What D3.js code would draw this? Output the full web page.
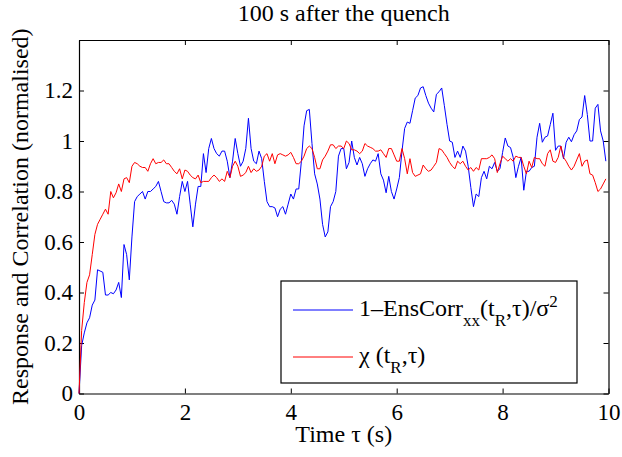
<!DOCTYPE html>
<html>
<head>
<meta charset="utf-8">
<script src="https://cdn.jsdelivr.net/npm/d3@7"></script>
<style>
  body { margin: 0; background: #fff; }
  svg text { font-family: "Liberation Serif", "Times New Roman", serif; fill: #000; }
</style>
</head>
<body>
<div id="chart"></div>
<script>
// sampling step of both curves (s)
const dt = 0.05;

// 1 - EnsCorr_xx(t_R, tau) / sigma^2  (blue)
const corrValues = [
  0, 0.19, 0.24, 0.28, 0.30, 0.35, 0.37, 0.49, 0.485, 0.48,
  0.39, 0.39, 0.40, 0.395, 0.41, 0.44, 0.38, 0.59, 0.55, 0.45,
  0.62, 0.76, 0.78, 0.79, 0.80, 0.77, 0.80, 0.80, 0.81, 0.82,
  0.84, 0.80, 0.76, 0.755, 0.755, 0.765, 0.75, 0.71, 0.78, 0.84,
  0.80, 0.84, 0.75, 0.66, 0.75, 0.82, 0.82, 0.95, 0.875, 0.97,
  1.01, 0.97, 0.95, 0.94, 0.96, 0.96, 0.92, 0.855, 0.92, 1.01,
  0.95, 0.90, 0.92, 0.97, 1.09, 0.97, 0.92, 0.91, 0.96, 0.93,
  0.84, 0.76, 0.74, 0.74, 0.735, 0.70, 0.73, 0.74, 0.71, 0.75,
  0.79, 0.77, 0.81, 0.81, 0.92, 1.06, 1.12, 1.125, 0.99, 0.87,
  0.83, 0.77, 0.67, 0.62, 0.64, 0.74, 0.76, 0.80, 0.94, 0.97,
  0.97, 0.89, 0.915, 1.0, 0.935, 0.905, 0.935, 0.91, 0.86, 0.89,
  0.91, 0.925, 0.92, 0.95, 0.87, 0.845, 0.795, 0.86, 0.80, 0.77,
  0.81, 0.855, 0.96, 1.05, 1.075, 1.07, 1.12, 1.17, 1.18, 1.21,
  1.215, 1.18, 1.15, 1.13, 1.115, 1.185, 1.195, 1.21, 1.14, 1.066,
  1.0, 0.995, 0.935, 0.96, 0.935, 0.98, 0.96, 0.90, 0.816, 0.74,
  0.79, 0.78, 0.855, 0.88, 0.85, 0.90, 0.89, 0.915, 0.88, 0.89,
  0.955, 1.012, 0.98, 0.974, 0.935, 0.855, 0.90, 0.935, 0.805, 0.88,
  0.88, 0.895, 0.90, 1.015, 1.07, 0.995, 1.015, 1.02, 1.065, 1.11,
  0.963, 0.98, 0.98, 0.93, 0.995, 1.015, 0.997, 1.025, 1.04, 1.085,
  1.095, 1.18, 1.105, 1.0, 1.0, 1.13, 1.145, 1.04, 1.0, 0.92
];

// chi(t_R, tau)  (red)
const chiValues = [
  0, 0.25, 0.36, 0.44, 0.47, 0.55, 0.63, 0.67, 0.69, 0.71,
  0.73, 0.71, 0.80, 0.775, 0.795, 0.83, 0.80, 0.85, 0.855, 0.835,
  0.90, 0.915, 0.91, 0.90, 0.895, 0.895, 0.88, 0.91, 0.93, 0.91,
  0.915, 0.915, 0.925, 0.91, 0.91, 0.895, 0.88, 0.87, 0.89, 0.85,
  0.885, 0.88, 0.865, 0.855, 0.85, 0.865, 0.835, 0.84, 0.84, 0.84,
  0.855, 0.865, 0.855, 0.84, 0.85, 0.84, 0.88, 0.855, 0.90, 0.92,
  0.90, 0.86, 0.865, 0.875, 0.90, 0.875, 0.89, 0.88, 0.885, 0.90,
  0.94, 0.95, 0.92, 0.95, 0.91, 0.945, 0.95, 0.945, 0.94, 0.945,
  0.955, 0.935, 0.91, 0.91, 0.92, 0.94, 0.97, 0.98, 0.97, 0.935,
  0.89, 0.89, 0.925, 0.94, 0.96, 0.985, 0.985, 0.97, 0.98, 0.98,
  0.97, 1.0, 0.99, 0.965, 0.965, 0.96, 0.95, 0.96, 0.99, 0.98,
  0.975, 0.97, 0.96, 0.96, 0.965, 0.95, 0.935, 0.97, 0.97, 0.945,
  0.92, 0.92, 0.97, 0.93, 0.87, 0.93, 0.875, 0.86, 0.865, 0.87,
  0.905, 0.89, 0.88, 0.885, 0.90, 0.915, 0.97, 0.965, 0.95, 0.935,
  0.915, 0.90, 0.89, 0.92, 0.91, 0.92, 0.90, 0.885, 0.895, 0.88,
  0.895, 0.885, 0.93, 0.93, 0.93, 0.935, 0.945, 0.93, 0.875, 0.91,
  0.94, 0.93, 0.92, 0.93, 0.92, 0.94, 0.935, 0.935, 0.90, 0.87,
  0.92, 0.895, 0.935, 0.93, 0.93, 0.91, 0.90, 0.95, 0.965, 0.92,
  0.915, 0.935, 0.98, 0.935, 0.92, 0.90, 0.885, 0.90, 0.925, 0.95,
  0.90, 0.92, 0.925, 0.87, 0.865, 0.835, 0.80, 0.81, 0.83, 0.85
];

const xTicks = [0, 2, 4, 6, 8, 10];
const yTicks = [0, 0.2, 0.4, 0.6, 0.8, 1, 1.2];

const serif = '"Liberation Serif", "Times New Roman", serif';
const width = 622;
const height = 457;
const margin = { top: 40, right: 13.5, bottom: 63.5, left: 79 };

const svg = d3
  .select("#chart")
  .append("svg")
  .attr("width", width)
  .attr("height", height);

const x = d3.scaleLinear().domain([0, 10]).range([margin.left, width - margin.right]);
const y = d3.scaleLinear().domain([0, 1.4]).range([height - margin.bottom, margin.top]);

// axes: ticks pointing inward, mirrored on top / right
const fmt = (d) => String(d);
svg.append("g")
  .attr("transform", `translate(0,${y(0)})`)
  .call(d3.axisBottom(x).tickValues(xTicks).tickFormat(fmt).tickSizeInner(-5).tickSizeOuter(0).tickPadding(10));
svg.append("g")
  .attr("transform", `translate(0,${y(1.4)})`)
  .call(d3.axisTop(x).tickValues(xTicks).tickFormat("").tickSizeInner(-5).tickSizeOuter(0));
svg.append("g")
  .attr("transform", `translate(${x(0)},0)`)
  .call(d3.axisLeft(y).tickValues(yTicks).tickFormat(fmt).tickSizeInner(-5).tickSizeOuter(0).tickPadding(6));
svg.append("g")
  .attr("transform", `translate(${x(10)},0)`)
  .call(d3.axisRight(y).tickValues(yTicks).tickFormat("").tickSizeInner(-5).tickSizeOuter(0));

svg.selectAll(".tick text").style("font-size", "23px").style("font-family", serif);
svg.selectAll(".domain").attr("stroke", "#000").attr("stroke-width", 1.2);
svg.selectAll(".tick line").attr("stroke", "#000");

// series
const line = d3.line()
  .x((d, i) => x(i * dt))
  .y((d) => y(d));

svg.append("path")
  .datum(corrValues)
  .attr("fill", "none")
  .attr("stroke", "#0000ff")
  .attr("stroke-width", 1)
  .attr("d", line);

svg.append("path")
  .datum(chiValues)
  .attr("fill", "none")
  .attr("stroke", "#ff0000")
  .attr("stroke-width", 1)
  .attr("d", line);

// title and labels
svg.append("text")
  .attr("x", (x(0) + x(10)) / 2)
  .attr("y", 21)
  .attr("text-anchor", "middle")
  .style("font-family", serif)
  .style("font-size", "24px")
  .text("100 s after the quench");

svg.append("text")
  .attr("x", (x(0) + x(10)) / 2)
  .attr("y", 442)
  .attr("text-anchor", "middle")
  .style("font-family", serif)
  .style("font-size", "24px")
  .text("Time τ (s)");

svg.append("text")
  .attr("transform", `translate(28,${(y(0) + y(1.4)) / 2}) rotate(-90)`)
  .attr("text-anchor", "middle")
  .style("font-family", serif)
  .style("font-size", "24px")
  .text("Response and Correlation (normalised)");

// legend
const legend = svg.append("g");
legend.append("rect")
  .attr("x", 281).attr("y", 281)
  .attr("width", 296).attr("height", 102)
  .attr("fill", "#fff")
  .attr("stroke", "#000")
  .attr("stroke-width", 1.2);

legend.append("line")
  .attr("x1", 293).attr("x2", 353).attr("y1", 310).attr("y2", 310)
  .attr("stroke", "#0000ff");
legend.append("line")
  .attr("x1", 293).attr("x2", 353).attr("y1", 357).attr("y2", 357)
  .attr("stroke", "#ff0000");

const t1 = legend.append("text").attr("x", 359).attr("y", 316)
  .style("font-family", serif).style("font-size", "24px");
t1.append("tspan").text("1\u2013EnsCorr");
t1.append("tspan").attr("dy", 10).style("font-size", "17px").text("xx");
t1.append("tspan").attr("dy", -10).text("(t");
t1.append("tspan").attr("dy", 10).style("font-size", "17px").text("R");
t1.append("tspan").attr("dy", -10).text(",τ)/σ");
t1.append("tspan").attr("dy", -9).style("font-size", "17px").text("2");

const t2 = legend.append("text").attr("x", 359).attr("y", 363)
  .style("font-family", serif).style("font-size", "24px");
t2.append("tspan").text("χ (t");
t2.append("tspan").attr("dy", 10).style("font-size", "17px").text("R");
t2.append("tspan").attr("dy", -10).text(",τ)");
</script>
</body>
</html>
